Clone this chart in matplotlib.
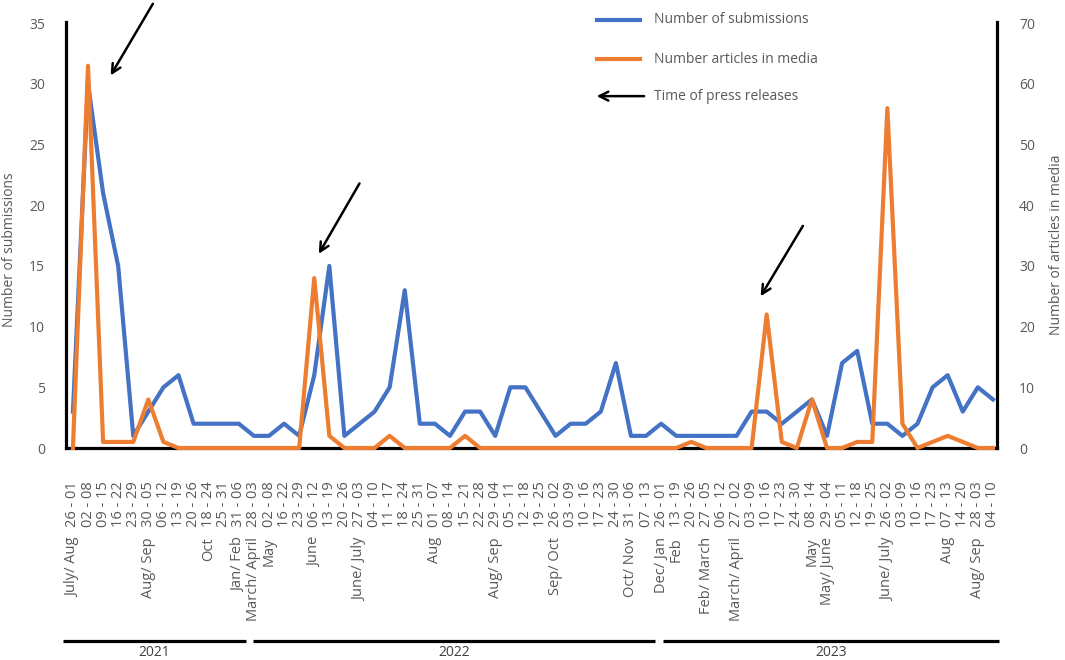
# Submissions vs. media articles per week, with press release markers
import numpy as np
import matplotlib
matplotlib.use('Agg')
import matplotlib.pyplot as plt

plt.rcParams['font.family'] = ['Open Sans', 'DejaVu Sans']

# Data
# ----
weeks = ['26 - 01', '02 - 08', '09 - 15', '16 - 22', '23 - 29', '30 - 05', '06 - 12', '13 - 19',
         '20 - 26', '18 - 24', '25 - 31', '31 - 06',
         '28 - 03', '02 - 08', '16 - 22', '23 - 29', '06 - 12', '13 - 19', '20 - 26', '27 - 03',
         '04 - 10', '11 - 17', '18 - 24', '25 - 31', '01 - 07', '08 - 14', '15 - 21', '22 - 28',
         '29 - 04', '05 - 11', '12 - 18', '19 - 25', '26 - 02', '03 - 09', '10 - 16', '17 - 23',
         '24 - 30', '31 - 06', '07 - 13', '26 - 01',
         '13 - 19', '20 - 26', '27 - 05', '06 - 12', '27 - 02', '03 - 09', '10 - 16', '17 - 23',
         '24 - 30', '08 - 14', '29 - 04', '05 - 11', '12 - 18', '19 - 25', '26 - 02', '03 - 09',
         '10 - 16', '17 - 23', '07 - 13', '14 - 20', '28 - 03', '04 - 10']

months = ['July/ Aug', '', '', '', '', 'Aug/ Sep', '', '', '', 'Oct', '', 'Jan/ Feb',
          'March/ April', 'May', '', '', 'June', '', '', 'June/ July', '', '', '', '',
          'Aug', '', '', '', 'Aug/ Sep', '', '', '', 'Sep/ Oct', '', '', '', '', 'Oct/ Nov', '', 'Dec/ Jan',
          'Feb', '', 'Feb/ March', '', 'March/ April', '', '', '', '', 'May', 'May/ June', '', '', '',
          'June/ July', '', '', '', 'Aug', '', 'Aug/ Sep', '']

submissions = [3, 30, 21, 15, 1, 3, 5, 6, 2, 2, 2, 2,
               1, 1, 2, 1, 6, 15, 1, 2, 3, 5, 13, 2, 2, 1, 3, 3, 1, 5, 5, 3, 1, 2, 2, 3, 7, 1, 1, 2,
               1, 1, 1, 1, 1, 3, 3, 2, 3, 4, 1, 7, 8, 2, 2, 1, 2, 5, 6, 3, 5, 4]

articles = [0, 63, 1, 1, 1, 8, 1, 0, 0, 0, 0, 0,
            0, 0, 0, 0, 28, 2, 0, 0, 0, 2, 0, 0, 0, 0, 2, 0, 0, 0, 0, 0, 0, 0, 0, 0, 0, 0, 0, 0,
            0, 1, 0, 0, 0, 0, 22, 1, 0, 8, 0, 0, 1, 1, 56, 4, 0, 1, 2, 1, 0, 0]

year_labels = ['2021', '2022', '2023']

# Layout
# ------
blue = '#4472C4'
orange = '#ED7D31'
grey = '#595959'
year_span = [(-0.65, 11.45), (11.95, 38.6), (39.1, 61.4)]
# press release arrows: (head x, head y) -> (tail x, tail y), left-axis units
press_arrows = [((2.5, 30.7), (5.3, 36.6)),
                ((16.3, 16.0), (19.0, 21.8)),
                ((45.6, 12.5), (48.4, 18.3))]

fig = plt.figure(figsize=(10.65, 6.6), dpi=100)
ax = fig.add_axes([66/1065, 212/660, 931/1065, 426/660])
ax2 = ax.twinx()

x = np.arange(len(weeks))
ax.plot(x, submissions, color=blue, lw=3, solid_joinstyle='round', clip_on=False, zorder=3)
ax2.plot(x, articles, color=orange, lw=3, solid_joinstyle='round', clip_on=False, zorder=3)

ax.set_xlim(-0.46, 61.27)
ax.set_ylim(0, 35.1)
ax2.set_ylim(0, 70.2)
ax.set_yticks(range(0, 36, 5))
ax2.set_yticks(range(0, 71, 10))
ax.set_xticks(x)
ax.set_xticklabels(weeks, rotation=90)

ax.tick_params(axis='x', length=0, pad=24, labelsize=10.5, labelcolor=grey)
ax.tick_params(axis='y', length=0, pad=15, labelsize=10, labelcolor=grey)
ax2.tick_params(axis='y', length=0, pad=16, labelsize=10, labelcolor=grey)

for s in ['top', 'right']:
    ax.spines[s].set_visible(False)
for s in ['top', 'left', 'bottom']:
    ax2.spines[s].set_visible(False)
ax.spines['left'].set_linewidth(2.3)
ax.spines['bottom'].set_linewidth(2.3)
ax2.spines['right'].set_linewidth(2.3)
for sp in [ax.spines['left'], ax.spines['bottom'], ax2.spines['right']]:
    sp.set_color('black')

# Month labels (second level of the category axis)
tr = ax.get_xaxis_transform()
for i, m in enumerate(months):
    if m:
        ax.text(i, -0.209, m, transform=tr, rotation=90, ha='center', va='top',
                fontsize=10.5, color=grey)

# Year brackets
for lbl, (x0, x1) in zip(year_labels, year_span):
    ax.plot([x0, x1], [-0.453, -0.453], transform=tr, color='black', lw=2.3,
            clip_on=False, solid_capstyle='butt')
    ax.text((x0 + x1) / 2, -0.481, lbl, transform=tr, ha='center', va='center',
            fontsize=10, color='#404040')

# Press release arrows
for head, tail in press_arrows:
    ax.annotate('', xy=head, xytext=tail, xycoords='data', annotation_clip=False,
                arrowprops=dict(arrowstyle='->', color='black', lw=1.8,
                                mutation_scale=16, shrinkA=0, shrinkB=0))

# Axis titles
fig.text(10/1065, 1 - 250/660, 'Number of submissions', rotation=90,
         ha='center', va='center', fontsize=10, color=grey)
fig.text(1057/1065, 1 - 245/660, 'Number of articles in media', rotation=90,
         ha='center', va='center', fontsize=10, color=grey)

# Legend (drawn by hand)
lx0, lx1, ltx = 0.570, 0.617, 0.632
ly = [1.005, 0.913, 0.826]
ax.plot([lx0, lx1], [ly[0], ly[0]], transform=ax.transAxes, color=blue, lw=3, clip_on=False)
ax.plot([lx0, lx1], [ly[1], ly[1]], transform=ax.transAxes, color=orange, lw=3, clip_on=False)
ax.annotate('', xy=(lx0, ly[2]), xytext=(lx1 + 0.004, ly[2]), xycoords='axes fraction',
            arrowprops=dict(arrowstyle='->', color='black', lw=1.8,
                            mutation_scale=16, shrinkA=0, shrinkB=0))
for yy, txt in zip(ly, ['Number of submissions', 'Number articles in media',
                        'Time of press releases']):
    ax.text(ltx, yy, txt, transform=ax.transAxes, va='center', ha='left',
            fontsize=10, color=grey)

fig.savefig('out.png', dpi=100)
plt.close()
